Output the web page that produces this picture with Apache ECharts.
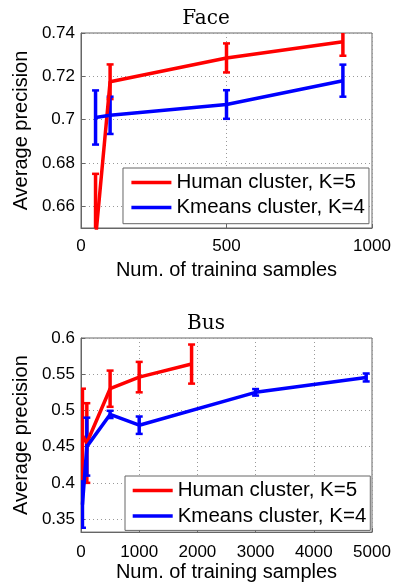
<!DOCTYPE html>
<html>
<head>
<meta charset="utf-8">
<script src="https://cdn.jsdelivr.net/npm/echarts@6/dist/echarts.min.js"></script>
<style>
html,body{margin:0;padding:0;background:#fff;}
#c{width:398px;height:583px;}
</style>
</head>
<body>
<div id="c"></div>
<script>
// ---- Data ----
const seriesNames = ['Human cluster, K=5', 'Kmeans cluster, K=4'];
const titles = ['Face', 'Bus'];
const xName = 'Num. of training samples';
const yName = 'Average precision';

const faceHumanX = [50, 100, 500, 900];
const faceHumanY = [0.645, 0.7175, 0.7285, 0.736];
const faceHumanErr = [0.03, 0.008, 0.0067, 0.0065];
const faceKmeansX = [50, 100, 500, 900];
const faceKmeansY = [0.701, 0.702, 0.707, 0.718];
const faceKmeansErr = [0.0125, 0.0086, 0.0066, 0.0074];

const busHumanX = [25, 100, 500, 1000, 1900];
const busHumanY = [0.465, 0.455, 0.53, 0.546, 0.564];
const busHumanErr = [0.065, 0.055, 0.025, 0.021, 0.027];
const busKmeansX = [25, 100, 500, 1000, 3000, 4900];
const busKmeansY = [0.37, 0.45, 0.4945, 0.4796, 0.525, 0.5455];
const busKmeansErr = [0.032, 0.04, 0.005, 0.012, 0.0045, 0.0055];

const faceYTicks = [0.66, 0.68, 0.7, 0.72, 0.74];
const busYTicks = [0.35, 0.4, 0.45, 0.5, 0.55, 0.6];

// ---- Helpers ----
const RED = '#ff0000', BLUE = '#0000ff';
const FONT = 'Liberation Sans';
function pts(xs, ys) { return xs.map((x, i) => [x, ys[i]]); }
function errs(xs, ys, es) { return xs.map((x, i) => [x, ys[i], es[i]]); }

function lineSeries(name, data, color, idx) {
  return {
    type: 'line', name: name, data: data, xAxisIndex: idx, yAxisIndex: idx,
    symbol: 'none', showSymbol: false, clip: true, z: 3,
    lineStyle: { color: color, width: 3.5 }, itemStyle: { color: color },
    animation: false
  };
}
function errSeries(data, color, idx) {
  return {
    type: 'custom', data: data, xAxisIndex: idx, yAxisIndex: idx, clip: true, z: 3,
    encode: { x: 0, y: 1 }, animation: false, silent: true,
    renderItem: function (params, api) {
      const x = api.value(0), y = api.value(1), e = api.value(2);
      const t = api.coord([x, y + e]);
      const b = api.coord([x, y - e]);
      const cw = 3.5;
      return {
        type: 'group',
        children: [
          { type: 'line', shape: { x1: t[0], y1: t[1], x2: b[0], y2: b[1] }, style: { stroke: color, lineWidth: 3.5 } },
          { type: 'line', shape: { x1: t[0] - cw, y1: t[1], x2: t[0] + cw, y2: t[1] }, style: { stroke: color, lineWidth: 2.5 } },
          { type: 'line', shape: { x1: b[0] - cw, y1: b[1], x2: b[0] + cw, y2: b[1] }, style: { stroke: color, lineWidth: 2.5 } }
        ]
      };
    }
  };
}
function xAxis(idx, max, interval, labelMargin, nameGap) {
  return {
    type: 'value', gridIndex: idx, min: 0, max: max, interval: interval,
    name: xName, nameLocation: 'middle', nameGap: nameGap,
    nameTextStyle: { fontFamily: FONT, fontSize: 20, color: '#000' },
    axisLine: { show: true, lineStyle: { color: '#666', width: 1 } },
    axisTick: { show: true, inside: true, length: 4, lineStyle: { color: '#666' } },
    axisLabel: { fontFamily: FONT, fontSize: 17, color: '#000', margin: labelMargin,
      formatter: function (v) { return String(v); } },
    splitLine: { show: true, lineStyle: { color: '#999', type: [1, 3], width: 1 } }
  };
}
function yAxis(idx, min, max, ticks, nameGap) {
  return {
    type: 'value', gridIndex: idx, min: min, max: max,
    name: yName, nameLocation: 'middle', nameGap: nameGap,
    nameTextStyle: { fontFamily: FONT, fontSize: 20, color: '#000' },
    axisLine: { show: true, lineStyle: { color: '#666', width: 1 } },
    axisTick: { show: true, inside: true, length: 4, lineStyle: { color: '#666' }, customValues: ticks },
    axisLabel: { fontFamily: FONT, fontSize: 17, color: '#000', margin: 6, customValues: ticks },
    splitLine: { show: true, lineStyle: { color: '#999', type: [1, 3], width: 1 } }
  };
}
function legend(left, top, padding, gap) {
  return {
    show: true,
    data: seriesNames, orient: 'vertical', left: left, top: top,
    icon: 'rect',
    padding: padding, itemGap: gap, itemWidth: 40, itemHeight: 3.5,
    backgroundColor: '#fff', borderColor: '#666', borderWidth: 1,
    selectedMode: false,
    textStyle: { fontFamily: FONT, fontSize: 20.5, color: '#000' },
    z: 10
  };
}

const chart = echarts.init(document.getElementById('c'), null, { renderer: 'canvas' });
const option = {
  animation: false,
  backgroundColor: '#fff',
  title: [
    { text: titles[0], left: 206, top: 9, textAlign: 'center', padding: 0,
      textStyle: { fontFamily: 'DejaVu Serif', fontSize: 20, fontWeight: 'normal', color: '#000' } },
    { text: titles[1], left: 206, top: 314, textAlign: 'center', padding: 0,
      textStyle: { fontFamily: 'DejaVu Serif', fontSize: 20, fontWeight: 'normal', color: '#000' } }
  ],
  grid: [
    { left: 81, top: 33, width: 291, height: 195, show: true, borderColor: '#666', borderWidth: 1, backgroundColor: 'transparent' },
    { left: 81, top: 338, width: 291, height: 196, show: true, borderColor: '#666', borderWidth: 1, backgroundColor: 'transparent' }
  ],
  xAxis: [ xAxis(0, 1000, 500, 10, 32), xAxis(1, 5000, 1000, 12, 23) ],
  yAxis: [ yAxis(0, 0.65, 0.74, faceYTicks, 48), yAxis(1, 0.332, 0.6, busYTicks, 48) ],
  legend: [ legend(123, 168, [4.1, 4, 5.7, 8.4], 3.9), legend(125, 476, [4, 4, 4, 7.7], 4.4) ],
  graphic: [
    { type: 'rect', left: 0, top: 276, z: 100, shape: { width: 398, height: 14 }, style: { fill: '#fff' } }
  ],
  series: [
    lineSeries(seriesNames[0], pts(faceHumanX, faceHumanY), RED, 0),
    errSeries(errs(faceHumanX, faceHumanY, faceHumanErr), RED, 0),
    lineSeries(seriesNames[1], pts(faceKmeansX, faceKmeansY), BLUE, 0),
    errSeries(errs(faceKmeansX, faceKmeansY, faceKmeansErr), BLUE, 0),
    lineSeries(seriesNames[0], pts(busHumanX, busHumanY), RED, 1),
    errSeries(errs(busHumanX, busHumanY, busHumanErr), RED, 1),
    lineSeries(seriesNames[1], pts(busKmeansX, busKmeansY), BLUE, 1),
    errSeries(errs(busKmeansX, busKmeansY, busKmeansErr), BLUE, 1)
  ]
};
chart.setOption(option);
</script>
</body>
</html>
